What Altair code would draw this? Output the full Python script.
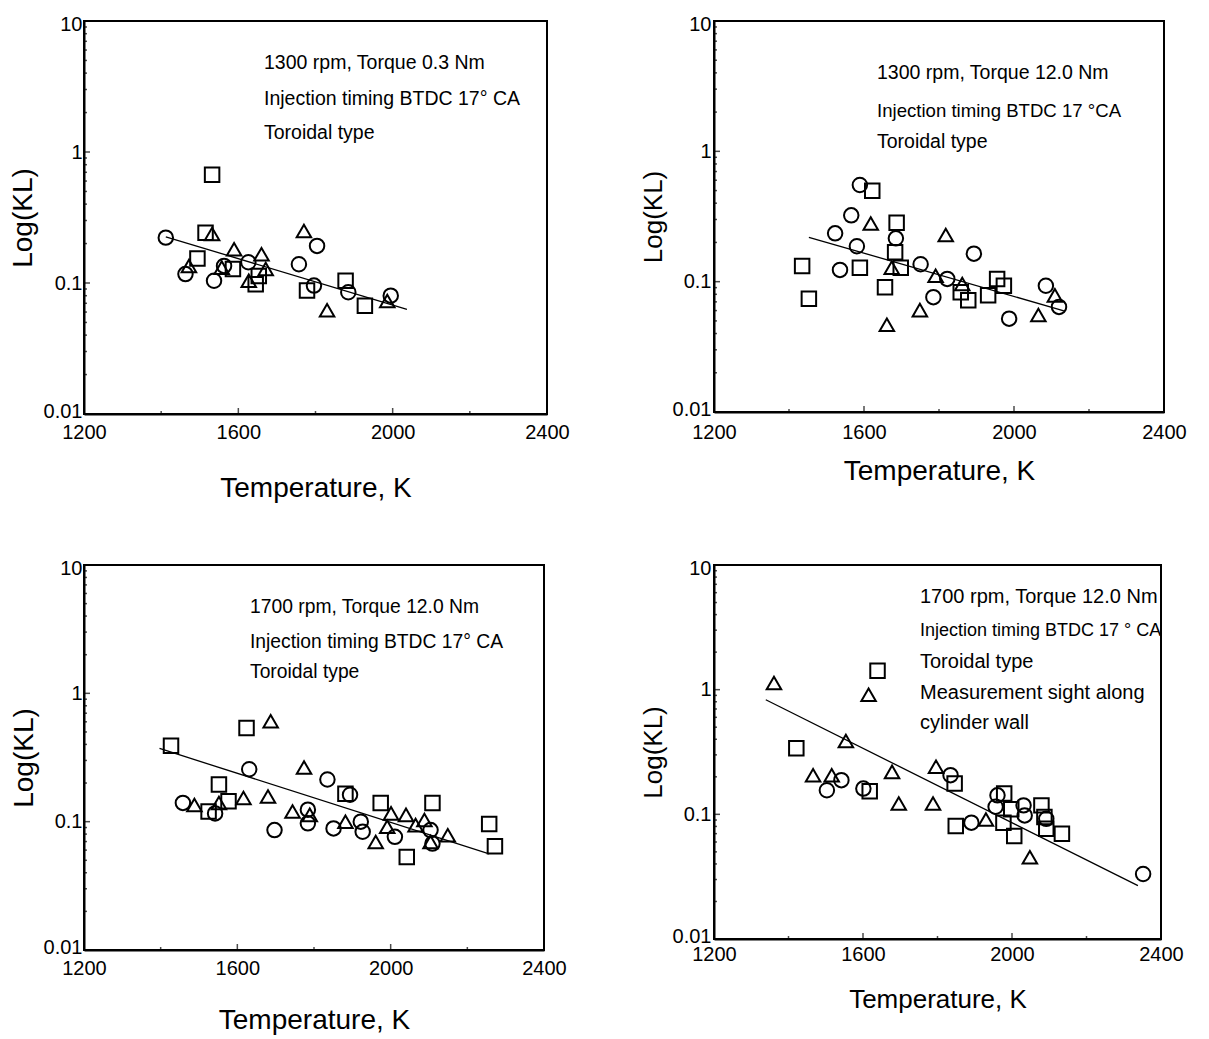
import altair as alt
import pandas as pd

# ---------------- Panel 1: 1300 rpm, Torque 0.3 Nm ----------------
P1_CIRCLE_T = [1412, 1463, 1537, 1563, 1626, 1757, 1804, 1796, 1885, 1995]
P1_CIRCLE_KL = [0.222, 0.117, 0.104, 0.135, 0.144, 0.139, 0.192, 0.0955, 0.085, 0.080]
P1_SQUARE_T = [1532, 1515, 1494, 1586, 1645, 1653, 1778, 1878, 1928]
P1_SQUARE_KL = [0.67, 0.242, 0.154, 0.128, 0.098, 0.113, 0.0875, 0.104, 0.067]
P1_TRI_T = [1532, 1472, 1557, 1589, 1660, 1627, 1671, 1770, 1830, 1986]
P1_TRI_KL = [0.237, 0.135, 0.131, 0.181, 0.166, 0.104, 0.128, 0.249, 0.062, 0.073]
P1_LINE_T = [1412, 2037]
P1_LINE_KL = [0.225, 0.063]
P1_NOTES = ["1300 rpm, Torque 0.3 Nm", "Injection timing BTDC 17\u00b0 CA", "Toroidal type"]

# ---------------- Panel 2: 1300 rpm, Torque 12.0 Nm ----------------
P2_CIRCLE_T = [1589, 1566, 1523, 1685, 1581, 1893, 1536, 1751, 1822, 1785, 1987, 2085, 2120]
P2_CIRCLE_KL = [0.552, 0.323, 0.235, 0.215, 0.187, 0.164, 0.123, 0.136, 0.105, 0.076, 0.052, 0.093, 0.064]
P2_SQUARE_T = [1622, 1687, 1683, 1435, 1589, 1698, 1858, 1878, 1453, 1656, 1931, 1955, 1973]
P2_SQUARE_KL = [0.498, 0.283, 0.168, 0.132, 0.128, 0.128, 0.083, 0.072, 0.074, 0.0906, 0.0785, 0.105, 0.093]
P2_TRI_T = [1618, 1818, 1674, 1791, 1862, 1749, 1661, 2065, 2109]
P2_TRI_KL = [0.279, 0.228, 0.128, 0.111, 0.096, 0.0605, 0.0467, 0.0555, 0.0785]
P2_LINE_T = [1453, 2133]
P2_LINE_KL = [0.219, 0.0598]
P2_NOTES = ["1300 rpm, Torque 12.0 Nm", "Injection timing BTDC 17 \u00b0CA", "Toroidal type"]

# ---------------- Panel 3: 1700 rpm, Torque 12.0 Nm ----------------
P3_CIRCLE_T = [1631, 1835, 1894, 1458, 1542, 1697, 1784, 1784, 1851, 1922, 1927, 2011, 2104, 2109]
P3_CIRCLE_KL = [0.256, 0.213, 0.162, 0.140, 0.116, 0.086, 0.124, 0.097, 0.0886, 0.100, 0.0834, 0.0762, 0.086, 0.0675]
P3_SQUARE_T = [1427, 1624, 1552, 1882, 1525, 1577, 1974, 2042, 2109, 2257, 2272]
P3_SQUARE_KL = [0.391, 0.536, 0.195, 0.165, 0.12, 0.144, 0.140, 0.053, 0.140, 0.0959, 0.0643]
P3_TRI_T = [1687, 1774, 1488, 1552, 1616, 1680, 1744, 1789, 1882, 1961, 1991, 2001, 2040, 2065, 2088, 2104, 2149]
P3_TRI_KL = [0.605, 0.264, 0.135, 0.140, 0.153, 0.157, 0.120, 0.113, 0.100, 0.0695, 0.0914, 0.116, 0.113, 0.094, 0.103, 0.0695, 0.0785]
P3_LINE_T = [1397, 2257]
P3_LINE_KL = [0.372, 0.0562]
P3_NOTES = ["1700 rpm, Torque 12.0 Nm", "Injection timing BTDC 17\u00b0 CA", "Toroidal type"]

# ---------------- Panel 4: 1700 rpm, Torque 12.0 Nm, along cylinder wall ----------------
P4_CIRCLE_T = [1542, 1503, 1601, 1835, 1891, 1961, 1956, 2031, 2034, 2092, 2352]
P4_CIRCLE_KL = [0.188, 0.156, 0.161, 0.206, 0.0857, 0.142, 0.115, 0.118, 0.098, 0.092, 0.0332]
P4_SQUARE_T = [1639, 1421, 1618, 1846, 1849, 1979, 1998, 1977, 2006, 2079, 2087, 2092, 2134]
P4_SQUARE_KL = [1.42, 0.339, 0.153, 0.177, 0.0805, 0.147, 0.11, 0.0857, 0.0669, 0.118, 0.095, 0.0766, 0.0698]
P4_TRI_T = [1361, 1615, 1554, 1466, 1516, 1678, 1696, 1796, 1788, 1930, 2048]
P4_TRI_KL = [1.13, 0.91, 0.388, 0.206, 0.206, 0.219, 0.122, 0.241, 0.122, 0.091, 0.0453]
P4_LINE_T = [1339, 2338]
P4_LINE_KL = [0.83, 0.0268]
P4_NOTES = ["1700 rpm, Torque 12.0 Nm", "Injection timing BTDC 17 \u00b0 CA", "Toroidal type",
            "Measurement sight along", "cylinder wall"]

# ---------------- axes ----------------
X_DOMAIN = [1200, 2400]
Y_DOMAIN = [0.01, 10]
X_LABELS = [1200, 1600, 2000, 2400]
Y_LABELS = [0.01, 0.1, 1, 10]
X_MAJOR_TICKS = [1600, 2000]
X_MINOR_TICKS = [1400, 1800, 2200]
Y_MAJOR_TICKS = [0.1, 1]
Y_MINOR_TICKS = [m * d for d in (0.01, 0.1, 1) for m in range(2, 10)]

SHAPES = ["circle", "square", "triangle-up"]
FONT = "Liberation Sans, Arial"


def panel(ct, ck, st, sk, tt, tk, lt, lk, notes, s):
    xs = alt.Scale(domain=X_DOMAIN, nice=False, zero=False)
    ys = alt.Scale(type="log", domain=Y_DOMAIN, nice=False)
    xaxis = alt.Axis(values=X_LABELS, format="d", ticks=False, grid=False,
                     domainColor="black", domainWidth=2,
                     labelFont=FONT, labelFontSize=s["tick"], labelColor="black",
                     labelPadding=s["xlp"], labelFlush=False, labelOverlap=False,
                     title="Temperature, K", titleFont=FONT, titleFontSize=s["xtitle"],
                     titleFontWeight="normal", titleColor="black", titlePadding=s["xtp"])
    yaxis = alt.Axis(values=Y_LABELS, format="~g", ticks=False, grid=False,
                     domainColor="black", domainWidth=2,
                     labelFont=FONT, labelFontSize=s["tick"], labelColor="black",
                     labelPadding=s["ylp"], labelFlush=True, labelFlushOffset=7,
                     labelOverlap=False,
                     title="Log(KL)", titleFont=FONT, titleFontSize=s["ytitle"],
                     titleFontWeight="normal", titleColor="black", titlePadding=s["ytp"])
    X = alt.X("T:Q", scale=xs, axis=xaxis)
    Y = alt.Y("KL:Q", scale=ys, axis=yaxis)

    pts = pd.DataFrame({
        "T": ct + st + tt,
        "KL": ck + sk + tk,
        "kind": ["circle"] * len(ct) + ["square"] * len(st) + ["triangle-up"] * len(tt),
    })
    points = alt.Chart(pts).mark_point(filled=False, color="black", strokeWidth=2,
                                       size=s["msize"], opacity=1).encode(
        x=X, y=Y,
        shape=alt.Shape("kind:N", scale=alt.Scale(domain=SHAPES, range=SHAPES), legend=None),
    )
    line = alt.Chart(pd.DataFrame({"T": lt, "KL": lk})).mark_line(
        color="black", strokeWidth=1.3).encode(x=X, y=Y)

    xmaj = alt.Chart(pd.DataFrame({"T": X_MAJOR_TICKS, "KL": [Y_DOMAIN[0]] * len(X_MAJOR_TICKS)})).mark_tick(
        orient="vertical", size=12, thickness=1.5, color="black", clip=True).encode(x=X, y=Y)
    xmin = alt.Chart(pd.DataFrame({"T": X_MINOR_TICKS, "KL": [Y_DOMAIN[0]] * len(X_MINOR_TICKS)})).mark_tick(
        orient="vertical", size=6, thickness=1.5, color="black", clip=True).encode(x=X, y=Y)
    ymaj = alt.Chart(pd.DataFrame({"T": [X_DOMAIN[0]] * len(Y_MAJOR_TICKS), "KL": Y_MAJOR_TICKS})).mark_tick(
        orient="horizontal", size=12, thickness=1.5, color="black", clip=True).encode(x=X, y=Y)
    ymin = alt.Chart(pd.DataFrame({"T": [X_DOMAIN[0]] * len(Y_MINOR_TICKS), "KL": Y_MINOR_TICKS})).mark_tick(
        orient="horizontal", size=6, thickness=1.5, color="black", clip=True).encode(x=X, y=Y)

    layers = [xmaj, xmin, ymaj, ymin, line, points]
    one = pd.DataFrame({"a": [0]})
    for i, txt in enumerate(notes):
        layers.append(
            alt.Chart(one).mark_text(text=txt, align="left", baseline="middle",
                                     font=FONT, fontSize=s["note"][i], color="black").encode(
                x=alt.value(s["nx"]), y=alt.value(s["ny"][i]))
        )
    return alt.layer(*layers).properties(width=s["w"], height=s["h"])


S1 = dict(tick=20, xtitle=28, ytitle=28, note=[19.5, 19.5, 19.5],
          xlp=8, xtp=32, ylp=2, ytp=6, msize=210, w=463, h=393,
          nx=180, ny=[42, 78, 112])
S2 = dict(tick=20, xtitle=28, ytitle=26, note=[19.5, 18.6, 19.5],
          xlp=10, xtp=15, ylp=3, ytp=6, msize=210, w=450, h=391,
          nx=163, ny=[52, 90, 121])
S3 = dict(tick=20, xtitle=28, ytitle=28, note=[19.3, 19.3, 19.3],
          xlp=8, xtp=28, ylp=2, ytp=5, msize=210, w=460, h=385,
          nx=166, ny=[42, 77, 107])
S4 = dict(tick=20, xtitle=26, ytitle=26, note=[20, 18, 20, 20, 20],
          xlp=5, xtp=22, ylp=3, ytp=6, msize=210, w=447, h=374,
          nx=206, ny=[32, 66, 97, 128, 158])

p1 = panel(P1_CIRCLE_T, P1_CIRCLE_KL, P1_SQUARE_T, P1_SQUARE_KL, P1_TRI_T, P1_TRI_KL,
           P1_LINE_T, P1_LINE_KL, P1_NOTES, S1)
p2 = panel(P2_CIRCLE_T, P2_CIRCLE_KL, P2_SQUARE_T, P2_SQUARE_KL, P2_TRI_T, P2_TRI_KL,
           P2_LINE_T, P2_LINE_KL, P2_NOTES, S2)
p3 = panel(P3_CIRCLE_T, P3_CIRCLE_KL, P3_SQUARE_T, P3_SQUARE_KL, P3_TRI_T, P3_TRI_KL,
           P3_LINE_T, P3_LINE_KL, P3_NOTES, S3)
p4 = panel(P4_CIRCLE_T, P4_CIRCLE_KL, P4_SQUARE_T, P4_SQUARE_KL, P4_TRI_T, P4_TRI_KL,
           P4_LINE_T, P4_LINE_KL, P4_NOTES, S4)

row1 = alt.hconcat(p1, p2, spacing=68)
row2 = alt.hconcat(p3, p4, spacing=71)
chart = alt.vconcat(row1, row2, spacing=54).properties(
    padding={"left": 0, "top": 5, "right": 0, "bottom": 0},
    background="white",
).configure_view(stroke="black", strokeWidth=2)

chart.save("out.html", embed_options={"renderer": "svg", "actions": False})
